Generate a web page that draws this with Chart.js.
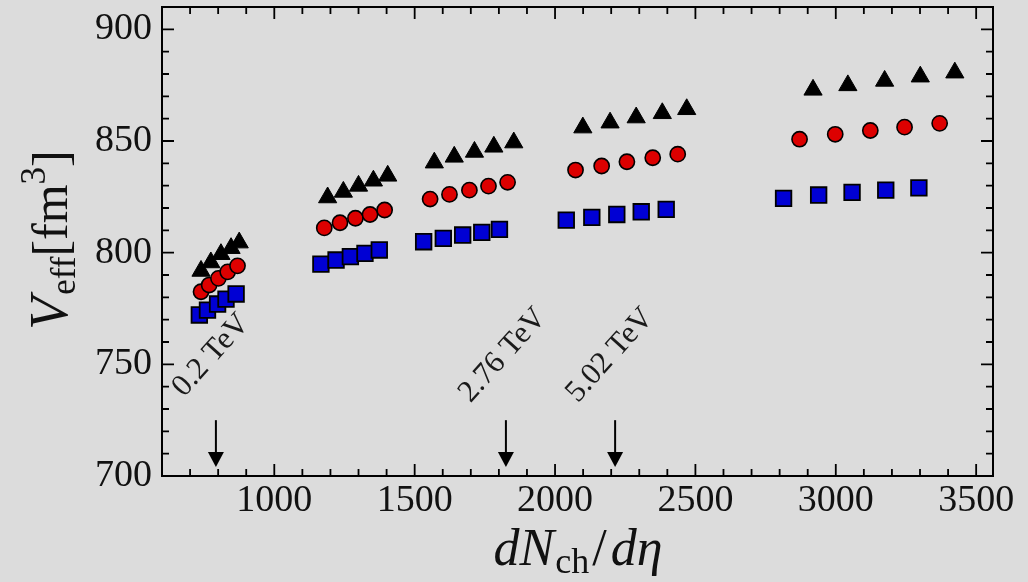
<!DOCTYPE html>
<html>
<head>
<meta charset="utf-8">
<script src="https://cdn.jsdelivr.net/npm/chart.js@4.4.0/dist/chart.umd.min.js"></script>
<style>
html,body{margin:0;padding:0;background:#dcdcdc;}
canvas{display:block;}
</style>
</head>
<body>
<canvas id="c" width="1028" height="582"></canvas>
<script>
// ---- data ----
const squareX = [733, 762, 798, 828, 864, 1166, 1220, 1271, 1323, 1374, 1532, 1602, 1671, 1739, 1802, 2040, 2131, 2220, 2307, 2396, 2814, 2939, 3058, 3178, 3296];
const squareY = [772.1, 774.3, 777.0, 779.2, 781.5, 794.9, 796.7, 798.2, 799.7, 801.2, 804.9, 806.4, 807.9, 809.1, 810.4, 814.6, 815.8, 817.1, 818.3, 819.4, 824.3, 825.8, 827.0, 828.0, 829.0];
const circleX = [739, 768, 801, 834, 869, 1178, 1234, 1289, 1341, 1393, 1555, 1624, 1695, 1763, 1831, 2073, 2166, 2256, 2348, 2437, 2871, 2998, 3123, 3245, 3370];
const circleY = [782.5, 785.5, 788.5, 791.4, 794.1, 811.1, 813.4, 815.4, 817.1, 819.1, 824.0, 826.1, 828.0, 829.8, 831.5, 837.0, 838.8, 840.7, 842.5, 844.1, 850.8, 853.0, 854.7, 856.2, 857.9];
const triangleX = [739, 774, 810, 846, 875, 1190, 1246, 1300, 1353, 1404, 1570, 1641, 1713, 1782, 1853, 2099, 2196, 2289, 2382, 2469, 2919, 3043, 3174, 3301, 3424];
const triangleY = [791.8, 795.6, 799.3, 802.0, 804.5, 824.7, 827.2, 829.9, 832.2, 834.4, 840.3, 842.9, 845.1, 847.4, 849.3, 856.0, 858.2, 860.5, 862.4, 864.2, 872.9, 874.9, 876.9, 878.8, 880.6];

const xTickValues = [1000, 1500, 2000, 2500, 3000, 3500];
const xTickLabels = ['1000', '1500', '2000', '2500', '3000', '3500'];
const yTickValues = [700, 750, 800, 850, 900];
const yTickLabels = ['700', '750', '800', '850', '900'];
const xMinorStep = 100;
const yMinorStep = 10;

const energyLabels = ['0.2 TeV', '2.76 TeV', '5.02 TeV'];
const energyLabelX = [775, 1814, 2196];
const energyLabelY = [754, 754, 754];
const arrowX = [792, 1825, 2214];
const arrowTopY = 725;
const arrowTipY = 704;

const X_MIN = 600, X_MAX = 3560, Y_MIN = 700, Y_MAX = 910;
const AREA = {left: 162, right: 993, top: 7, bottom: 476};
const PAD = {left: 0, right: 35, top: 7, bottom: 0};

const SERIF = '"Liberation Serif", "Times New Roman", serif';

function pts(xs, ys) { return xs.map((v, i) => ({x: v, y: ys[i]})); }

function drawParts(ctx, parts) {
  let total = 0;
  parts.forEach(p => { ctx.font = p.font; p.w = ctx.measureText(p.t).width; total += p.w + (p.gap || 0); });
  let x = -total / 2;
  parts.forEach(p => {
    ctx.font = p.font;
    ctx.fillText(p.t, x, p.dy || 0);
    x += p.w + (p.gap || 0);
  });
}

const decor = {
  id: 'decor',
  beforeDraw(chart) {
    const ctx = chart.ctx;
    ctx.save();
    ctx.fillStyle = '#dcdcdc';
    ctx.fillRect(0, 0, chart.width, chart.height);
    ctx.restore();
  },
  afterDraw(chart) {
    const {ctx, chartArea: a, scales: {x, y}} = chart;
    ctx.save();
    ctx.strokeStyle = '#000';
    ctx.lineWidth = 2;
    ctx.strokeRect(a.left, a.top, a.right - a.left, a.bottom - a.top);
    ctx.lineWidth = 1.8;
    ctx.beginPath();
    for (let v = Math.ceil(X_MIN / xMinorStep) * xMinorStep; v <= X_MAX; v += xMinorStep) {
      const px = x.getPixelForValue(v);
      const len = xTickValues.includes(v) ? 12 : 7;
      ctx.moveTo(px, a.bottom); ctx.lineTo(px, a.bottom - len);
      ctx.moveTo(px, a.top); ctx.lineTo(px, a.top + len);
    }
    for (let v = Y_MIN + yMinorStep; v < Y_MAX; v += yMinorStep) {
      const py = y.getPixelForValue(v);
      const len = yTickValues.includes(v) ? 12 : 7;
      ctx.moveTo(a.left, py); ctx.lineTo(a.left + len, py);
      ctx.moveTo(a.right, py); ctx.lineTo(a.right - len, py);
    }
    ctx.stroke();

    ctx.fillStyle = '#000';
    ctx.lineWidth = 2;
    arrowX.forEach(v => {
      const px = x.getPixelForValue(v);
      const top = y.getPixelForValue(arrowTopY);
      const tip = y.getPixelForValue(arrowTipY);
      const hh = 15, hw = 8;
      ctx.beginPath();
      ctx.moveTo(px, top); ctx.lineTo(px, tip - hh + 2);
      ctx.stroke();
      ctx.beginPath();
      ctx.moveTo(px - hw, tip - hh); ctx.lineTo(px + hw, tip - hh); ctx.lineTo(px, tip);
      ctx.closePath(); ctx.fill();
    });

    ctx.fillStyle = '#1a1a1a';
    ctx.font = '31px ' + SERIF;
    ctx.textAlign = 'center';
    ctx.textBaseline = 'middle';
    energyLabels.forEach((t, i) => {
      ctx.save();
      ctx.translate(x.getPixelForValue(energyLabelX[i]), y.getPixelForValue(energyLabelY[i]));
      ctx.rotate(-48 * Math.PI / 180);
      ctx.fillText(t, 0, 0);
      ctx.restore();
    });

    ctx.fillStyle = '#111';
    ctx.textAlign = 'left';
    ctx.textBaseline = 'alphabetic';
    ctx.save();
    ctx.translate(67, 240);
    ctx.rotate(-Math.PI / 2);
    drawParts(ctx, [
      {t: 'V', font: 'italic 54px ' + SERIF, gap: 2},
      {t: 'eff', font: '35px ' + SERIF, dy: 8},
      {t: '[fm', font: '50px ' + SERIF},
      {t: '3', font: '35px ' + SERIF, dy: -22},
      {t: ']', font: '50px ' + SERIF}
    ]);
    ctx.restore();
    ctx.save();
    ctx.translate(578, 565);
    drawParts(ctx, [
      {t: 'd', font: 'italic 52px ' + SERIF},
      {t: 'N', font: 'italic 52px ' + SERIF, gap: 1},
      {t: 'ch', font: '36px ' + SERIF, dy: 8, gap: 3},
      {t: '/', font: '52px ' + SERIF, gap: 4},
      {t: 'd', font: 'italic 52px ' + SERIF},
      {t: 'η', font: 'italic 52px ' + SERIF}
    ]);
    ctx.restore();
    ctx.restore();
  }
};

const chart = new Chart(document.getElementById('c'), {
  type: 'scatter',
  data: {
    datasets: [
      {label: 'circles', data: pts(circleX, circleY), pointStyle: 'circle', pointRadius: 7.6, pointHoverRadius: 7.6,
       backgroundColor: '#dd0000', borderColor: '#000', borderWidth: 1.6},
      {label: 'squares', data: pts(squareX, squareY), pointStyle: 'rect', pointRadius: 11, pointHoverRadius: 11,
       backgroundColor: '#0000d4', borderColor: '#000', borderWidth: 1.8},
      {label: 'triangles', data: pts(triangleX, triangleY), pointStyle: 'triangle', pointRadius: 10.5, pointHoverRadius: 10.5,
       backgroundColor: '#000', borderColor: '#000', borderWidth: 1}
    ]
  },
  options: {
    responsive: false,
    animation: false,
    devicePixelRatio: 1,
    events: [],
    layout: {padding: PAD, autoPadding: false},
    plugins: {legend: {display: false}, tooltip: {enabled: false}},
    scales: {
      x: {
        type: 'linear', min: X_MIN, max: X_MAX,
        grid: {display: false, drawTicks: false}, border: {display: false},
        ticks: {font: {family: SERIF, size: 38, lineHeight: 1.2}, color: '#111', padding: 2, maxRotation: 0, autoSkip: false,
                callback: (v, i) => xTickLabels[i]},
        afterBuildTicks: s => { s.ticks = xTickValues.map(v => ({value: v})); },
        afterFit: s => { s.height = 106; s.paddingLeft = 0; s.paddingRight = 0; s.paddingTop = 0; s.paddingBottom = 0; }
      },
      y: {
        type: 'linear', min: Y_MIN, max: Y_MAX,
        grid: {display: false, drawTicks: false}, border: {display: false},
        ticks: {font: {family: SERIF, size: 38, lineHeight: 1.2}, color: '#111', padding: 10, autoSkip: false,
                callback: (v, i) => yTickLabels[i]},
        afterBuildTicks: s => { s.ticks = yTickValues.map(v => ({value: v})); },
        afterFit: s => { s.width = 162; s.paddingTop = 0; s.paddingBottom = 0; s.paddingLeft = 0; s.paddingRight = 0; }
      }
    }
  },
  plugins: [decor]
});

// nudge layout padding so the plot area lands where the reference's frame is
for (let k = 0; k < 4; k++) {
  const a = chart.chartArea;
  const dt = AREA.top - a.top, db = a.bottom - AREA.bottom, dl = AREA.left - a.left, dr = a.right - AREA.right;
  if (Math.abs(dt) < 0.5 && Math.abs(db) < 0.5 && Math.abs(dl) < 0.5 && Math.abs(dr) < 0.5) break;
  PAD.top += dt; PAD.bottom += db; PAD.left += dl; PAD.right += dr;
  chart.update();
}
</script>
</body>
</html>
